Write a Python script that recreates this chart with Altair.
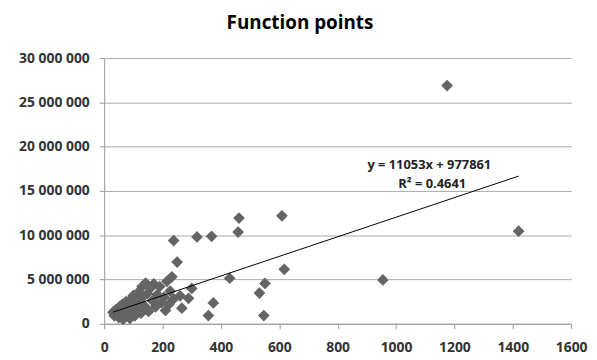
import altair as alt
import pandas as pd

# Function points (x) vs cost (y)
fp = [30, 35, 40, 45, 50, 52, 58, 62, 65, 68, 72, 75, 80, 85, 88, 92, 95, 100,
      105, 108, 112, 118, 122, 126, 130, 134, 138, 142, 148, 152, 158, 165, 170,
      176, 182, 190, 196, 205, 210, 215, 222, 226, 232, 238,
      238, 250, 260, 266, 289, 300, 318, 357, 368, 374, 430, 459, 462, 532,
      547, 551, 609, 617, 955, 1175, 1420]
cost_m = [1.3, 0.9, 1.6, 1.1, 0.7, 1.9, 1.4, 2.2, 0.5, 1.0, 1.7, 2.5, 1.2, 2.0,
          0.6, 2.8, 1.5, 3.2, 0.9, 2.3, 1.6, 3.6, 2.7, 1.2, 4.2, 3.1, 2.0, 4.6,
          3.4, 1.4, 4.0, 2.6, 4.5, 1.9, 3.3, 4.2, 2.4, 3.0, 1.5, 4.8, 2.2, 3.7,
          5.3, 2.8,
          9.39, 6.97, 3.16, 1.76, 2.87, 3.99, 9.8, 0.93, 9.87, 2.35, 5.14, 10.36,
          11.93, 3.47, 0.93, 4.55, 12.19, 6.15, 4.95, 26.9, 10.45]

slope = 11053
intercept = 977861
eq_lines = ["y = 11053x + 977861", "R² = 0.4641"]
eq_x = [1114, 1124]
eq_y = [17.9e6, 15.8e6]

x_ticks = [0, 200, 400, 600, 800, 1000, 1200, 1400, 1600]
y_ticks = [0, 5e6, 10e6, 15e6, 20e6, 25e6, 30e6]

df = pd.DataFrame({"fp": fp, "cost": [c * 1e6 for c in cost_m]})
xmin, xmax = min(fp), max(fp)
trend = pd.DataFrame({"fp": [xmin, xmax],
                      "cost": [slope * xmin + intercept, slope * xmax + intercept]})
ann = pd.DataFrame({"fp": eq_x, "cost": eq_y, "t": eq_lines})

FONT = "Open Sans"
xs = alt.Scale(domain=[0, 1600], nice=False)
ys = alt.Scale(domain=[0, 30e6], nice=False)

xaxis = alt.Axis(values=x_ticks, grid=False, title=None, labelPadding=12,
                 format="d",
                 labelFontSize=14, labelFont=FONT, labelFontWeight="bold",
                 labelColor="#333333", domainColor="#9a9a9a", tickColor="#9a9a9a",
                 tickSize=5, labelFlush=False)
yaxis = alt.Axis(values=y_ticks, grid=True, gridColor="#a8a8a8", title=None,
                 labelPadding=10, labelFontSize=14, labelFont=FONT,
                 labelFontWeight="bold", labelColor="#333333",
                 domainColor="#9a9a9a", tickColor="#9a9a9a", tickSize=5,
                 labelExpr="replace(format(datum.value, ','), regexp(',', 'g'), ' ')")

points = alt.Chart(df).mark_point(shape="diamond", filled=True, size=140,
                                  color="#646464", opacity=1).encode(
    x=alt.X("fp:Q", scale=xs, axis=xaxis),
    y=alt.Y("cost:Q", scale=ys, axis=yaxis),
)

line = alt.Chart(trend).mark_line(color="#000000", strokeWidth=1).encode(
    x=alt.X("fp:Q", scale=xs), y=alt.Y("cost:Q", scale=ys))

text = alt.Chart(ann).mark_text(font=FONT, fontSize=13, fontWeight="bold",
                                color="#222222").encode(
    x=alt.X("fp:Q", scale=xs), y=alt.Y("cost:Q", scale=ys), text="t:N")

chart = alt.layer(points, line, text).properties(
    width=471, height=268,
    autosize=alt.AutoSizeParams(type="none"),
    padding={"left": 97, "top": 49, "right": 18, "bottom": 30},
    title=alt.TitleParams("Function points", font=FONT, fontSize=19,
                          fontWeight="bold", color="#000000", dx=-38, offset=18,
                          anchor="middle"),
).configure_view(stroke=None)

chart.save("out.html", embed_options={"renderer": "svg", "actions": False})
